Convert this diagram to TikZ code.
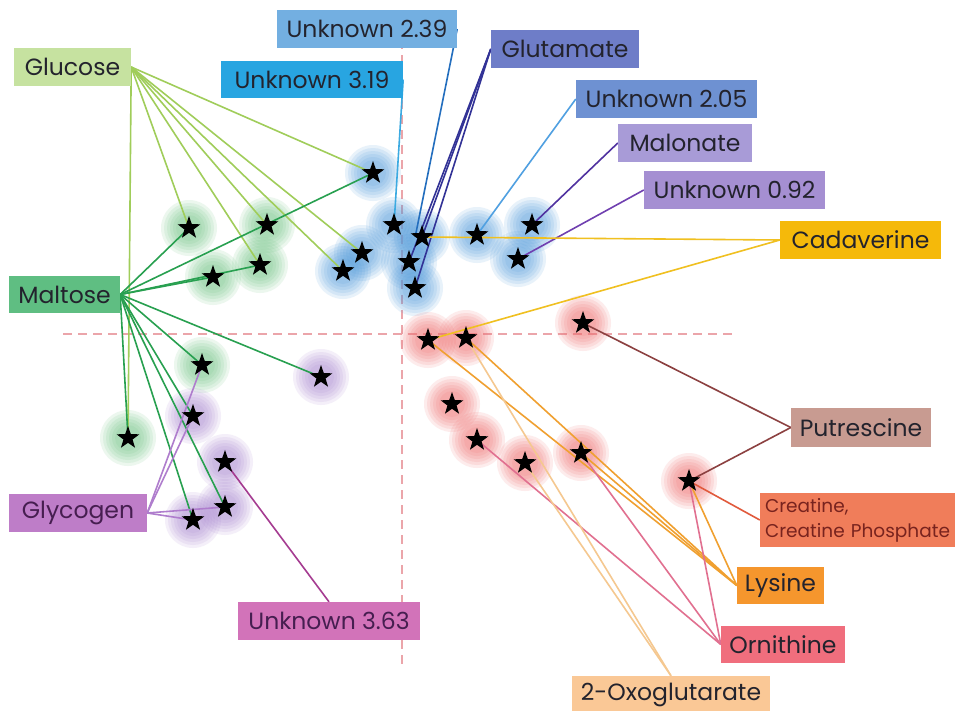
\documentclass[tikz,border=0pt]{standalone}
\usepackage{fontspec}
\setmainfont{Poppins}
\usetikzlibrary{shapes.geometric}

% box colours
\definecolor{bU239}{RGB}{115,175,225}
\definecolor{bGluc}{RGB}{198,226,160}
\definecolor{bU319}{RGB}{40,165,225}
\definecolor{bMalt}{RGB}{95,190,130}
\definecolor{bGlut}{RGB}{110,125,200}
\definecolor{bU205}{RGB}{110,145,210}
\definecolor{bMalo}{RGB}{168,155,215}
\definecolor{bU092}{RGB}{165,143,210}
\definecolor{bCada}{RGB}{245,185,10}
\definecolor{bGlyc}{RGB}{190,125,200}
\definecolor{bU363}{RGB}{210,115,185}
\definecolor{bPutr}{RGB}{200,155,145}
\definecolor{bCrea}{RGB}{240,125,90}
\definecolor{bLysi}{RGB}{245,150,45}
\definecolor{bOrni}{RGB}{240,110,125}
\definecolor{bOxog}{RGB}{250,200,150}
% line colours
\definecolor{lGluc}{RGB}{160,205,90}
\definecolor{lMalt}{RGB}{40,160,80}
\definecolor{lGlyc}{RGB}{175,125,205}
\definecolor{lU363}{RGB}{165,60,145}
\definecolor{lU319}{RGB}{60,170,225}
\definecolor{lU239}{RGB}{35,110,190}
\definecolor{lGlut}{RGB}{50,50,150}
\definecolor{lU205}{RGB}{80,160,225}
\definecolor{lMalo}{RGB}{80,50,160}
\definecolor{lU092}{RGB}{112,64,176}
\definecolor{lCada}{RGB}{240,192,32}
\definecolor{lPutr}{RGB}{140,65,65}
\definecolor{lCrea}{RGB}{225,90,60}
\definecolor{lLysi}{RGB}{240,160,48}
\definecolor{lOrni}{RGB}{225,112,144}
\definecolor{lOxog}{RGB}{245,200,144}
% glow colours
\definecolor{gGreen}{RGB}{110,195,130}
\definecolor{gBlue}{RGB}{80,155,220}
\definecolor{gPurple}{RGB}{170,135,210}
\definecolor{gRed}{RGB}{240,110,110}
\definecolor{axiscol}{RGB}{235,165,170}
\definecolor{txt}{RGB}{35,35,45}
\definecolor{txtPurple}{RGB}{70,30,80}
\definecolor{txtRed}{RGB}{120,35,30}

\pgfdeclarelayer{bglayer}
\pgfdeclarelayer{glowlayer}
\pgfdeclarelayer{linelayer}
\pgfsetlayers{bglayer,glowlayer,linelayer,main}

\newcommand\glowat[2]{\foreach \rr in {28,25,22,19,16,13} {\fill[#1, fill opacity=0.13] (#2.center) circle (\rr pt);}}

\tikzset{
  lbl/.style={rectangle, inner sep=0pt, text=txt, font=\fontsize{23.5}{28}\selectfont},
  starnode/.style={star, star points=5, star point ratio=2.5, fill=black, draw=none, minimum size=24pt, inner sep=0pt},
  conn/.style={line width=1.6pt},
  axisline/.style={draw=axiscol, line width=1.3pt, dash pattern=on 9pt off 6pt},
}

\begin{document}
\begin{tikzpicture}[x=1pt,y=-1pt]
\useasboundingbox (0,0) rectangle (955,710);
\begin{pgfonlayer}{bglayer}
\fill[white] (0,0) rectangle (955,710);
\end{pgfonlayer}

% ---- stars ----
\node[starnode] (A) at (373,173) {};
\node[starnode] (B) at (189,228) {};
\node[starnode] (C) at (267,225) {};
\node[starnode] (D) at (260,265) {};
\node[starnode] (E) at (213,277) {};
\node[starnode] (F) at (362,253) {};
\node[starnode] (G) at (343,271) {};
\node[starnode] (H) at (394,225) {};
\node[starnode] (I) at (422,237) {};
\node[starnode] (J) at (409,262) {};
\node[starnode] (K) at (415,288) {};
\node[starnode] (L) at (477,235) {};
\node[starnode] (M) at (532,225) {};
\node[starnode] (N) at (518,259) {};
\node[starnode] (S) at (202,365) {};
\node[starnode] (V) at (128,438) {};
\node[starnode] (T) at (321,377) {};
\node[starnode] (U) at (193,416) {};
\node[starnode] (W) at (225,462) {};
\node[starnode] (X) at (225,507) {};
\node[starnode] (Y) at (193,520) {};
\node[starnode] (Q) at (428,340) {};
\node[starnode] (R) at (466,338) {};
\node[starnode] (P) at (583,323) {};
\node[starnode] (Z1) at (452,404) {};
\node[starnode] (Z2) at (477,440) {};
\node[starnode] (Z3) at (525,463) {};
\node[starnode] (Z4) at (581,453) {};
\node[starnode] (Z5) at (689,481) {};

% ---- labels ----
\node[lbl, fill=bU239, minimum width=180pt, minimum height=38pt] (U239) at (367,29) {Unknown 2.39};
\node[lbl, fill=bGluc, minimum width=117pt, minimum height=38pt] (Gluc) at (72.5,67) {Glucose};
\node[lbl, fill=bU319, minimum width=182pt, minimum height=37pt] (U319) at (312,79.5) {Unknown 3.19};
\node[lbl, fill=bMalt, minimum width=111pt, minimum height=37pt] (Malt) at (64.5,294.5) {Maltose};
\node[lbl, fill=bGlut, minimum width=148pt, minimum height=38pt] (Glut) at (565,49) {Glutamate};
\node[lbl, fill=bU205, minimum width=181pt, minimum height=38pt] (U205) at (666.5,99) {Unknown 2.05};
\node[lbl, fill=bMalo, minimum width=134pt, minimum height=38pt] (Malo) at (685,143) {Malonate};
\node[lbl, fill=bU092, minimum width=181pt, minimum height=38pt] (U092) at (734.5,190) {Unknown 0.92};
\node[lbl, fill=bCada, minimum width=161pt, minimum height=38pt] (Cada) at (860.5,240) {Cadaverine};
\node[lbl, fill=bGlyc, minimum width=138pt, minimum height=38pt, text=txtPurple] (Glyc) at (78,513) {Glycogen};
\node[lbl, fill=bU363, minimum width=182pt, minimum height=38pt, text=txtPurple] (U363) at (329,621) {Unknown 3.63};
\node[lbl, fill=bPutr, minimum width=140pt, minimum height=39pt] (Putr) at (861,427.5) {Putrescine};
\node[lbl, fill=bCrea, text width=187pt, align=left, inner xsep=5pt, minimum height=54pt, text=txtRed, font=\fontsize{18.5}{25}\selectfont] (Crea) at (858.5,520) {Creatine,\\\mbox{Creatine Phosphate}};
\node[lbl, fill=bLysi, minimum width=87pt, minimum height=37pt] (Lysi) at (780.5,585.5) {Lysine};
\node[lbl, fill=bOrni, minimum width=124pt, minimum height=37pt] (Orni) at (783,644.5) {Ornithine};
\node[lbl, fill=bOxog, minimum width=198pt, minimum height=38pt] (Oxog) at (671,695) {2-Oxoglutarate};

% ---- glows and axes ----
\begin{pgfonlayer}{glowlayer}
\coordinate (hA) at (63,334);
\coordinate (hB) at (735,334);
\coordinate (vA) at (402,10);
\coordinate (vB) at (402,664);
\draw[axisline] (hA) -- (hB);
\draw[axisline] (vA) -- (vB);
\foreach \s in {B,C,D,E,S,V} {\glowat{gGreen}{\s}}
\foreach \s in {A,F,G,H,I,J,K,L,M,N} {\glowat{gBlue}{\s}}
\foreach \s in {T,U,W,X,Y} {\glowat{gPurple}{\s}}
\foreach \s in {Q,R,P,Z1,Z2,Z3,Z4,Z5} {\glowat{gRed}{\s}}
\end{pgfonlayer}

% ---- connectors ----
\begin{pgfonlayer}{linelayer}
\foreach \s in {V,B,D,C,G,F,A} {\draw[conn, lGluc] (Gluc.east) -- (\s.center);}
\foreach \s in {A,B,D,E,S,T,U,X,Y,V} {\draw[conn, lMalt] (Malt.east) -- (\s.center);}
\foreach \s in {S,U,X,Y} {\draw[conn, lGlyc] (Glyc.east) -- (\s.center);}
\draw[conn, lU363] (U363.north) -- (W.center);
\draw[conn, lU319] (U319.east) -- (H.center);
\draw[conn, lU239] (U239.east) -- (I.west);
\foreach \s in {I,J,K} {\draw[conn, lGlut] (Glut.west) -- (\s.center);}
\draw[conn, lU205] (U205.west) -- (L.center);
\draw[conn, lMalo] (Malo.west) -- (M.center);
\draw[conn, lU092] (U092.west) -- (N.center);
\foreach \s in {I,Q} {\draw[conn, lCada] (Cada.west) -- (\s.center);}
\foreach \s in {P,Z5} {\draw[conn, lPutr] (Putr.west) -- (\s.center);}
\draw[conn, lCrea] (Crea.west) -- (Z5.center);
\foreach \s in {Q,R,Z4,Z5} {\draw[conn, lLysi] (Lysi.west) -- (\s.center);}
\foreach \s in {Z2,Z4,Z5} {\draw[conn, lOrni] (Orni.west) -- (\s.center);}
\foreach \s in {R,Z3} {\draw[conn, lOxog] (Oxog.north) -- (\s.center);}
\end{pgfonlayer}
\end{tikzpicture}
\end{document}
